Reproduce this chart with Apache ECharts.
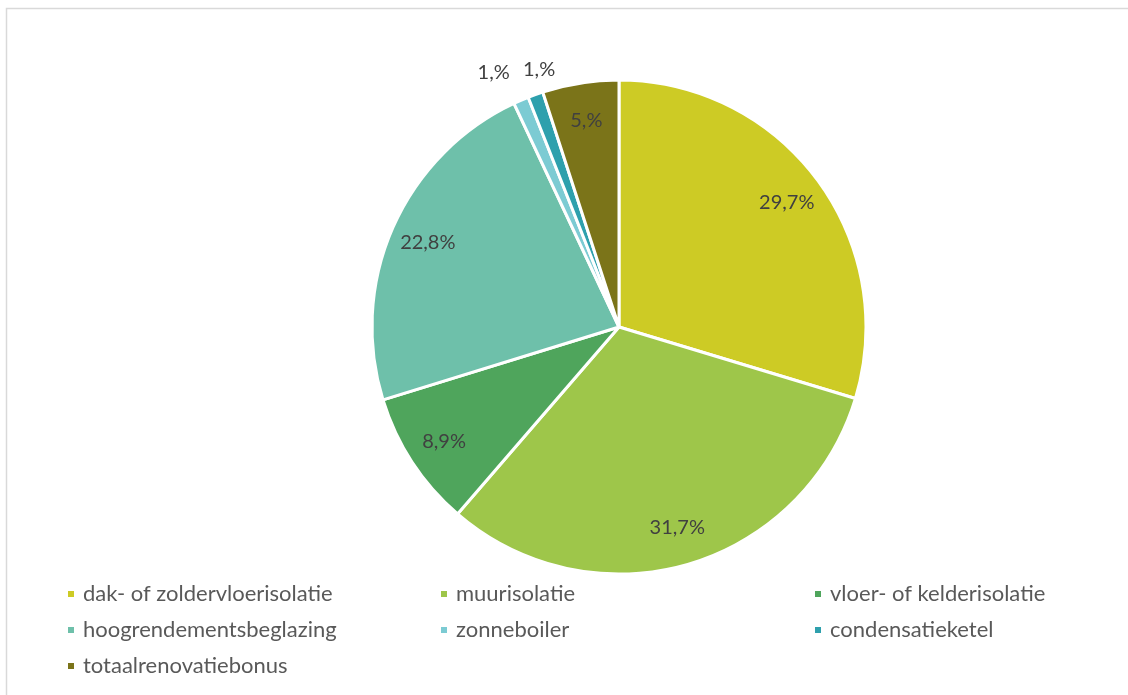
<!DOCTYPE html>
<html>
<head>
<meta charset="utf-8">
<script src="https://cdn.jsdelivr.net/npm/echarts@6/dist/echarts.min.js"></script>
<style>
    html, body { margin: 0; padding: 0; background: #fff; }
    #chart { width: 1128px; height: 695px; }
</style>
</head>
<body>
<div id="chart"></div>
<script>
// maatregelen en hun aandeel (%)
const categories = [
    'dak- of zoldervloerisolatie',
    'muurisolatie',
    'vloer- of kelderisolatie',
    'hoogrendementsbeglazing',
    'zonneboiler',
    'condensatieketel',
    'totaalrenovatiebonus'
]
const shares = [29.7, 31.7, 8.9, 22.8, 1.0, 1.0, 5.0]
const shareLabels = ['29,7%', '31,7%', '8,9%', '22,8%', '1,%', '1,%', '5,%']
const colors = ['#cdcb25', '#9ec64a', '#4fa55c', '#6ec0aa', '#7ccbd3', '#2ea0ad', '#7b7419']

const center = [619, 327]
const radius = 247
const font = 'Lato'

// kleine labels uit elkaar schuiven (zoals Excel doet)
const smallLabelOffset = {4: [-14, 3], 5: [15, 6]}

let pieData = categories.map((name, i) => ({value: shares[i], name: name}))

let chart = echarts.init(document.getElementById('chart'))

function legendCol(names, left) {
    return {
        orient: 'vertical',
        left: left,
        top: 583,
        padding: 0,
        data: names,
        icon: 'rect',
        itemWidth: 8,
        itemHeight: 8,
        itemGap: 14,
        selectedMode: false,
        textStyle: {
            fontFamily: font,
            fontSize: 22,
            lineHeight: 22,
            color: '#595959',
            padding: [0, 0, 0, 3]
        }
    }
}

function labelSeries(inner, outer, showSmall) {
    return {
        type: 'pie',
        center: center,
        radius: [inner, outer],
        startAngle: 90,
        silent: true,
        avoidLabelOverlap: false,
        labelLayout: {hideOverlap: false},
        itemStyle: {color: 'rgba(0,0,0,0)'},
        label: {
            position: 'inside',
            fontFamily: font,
            fontSize: 20,
            color: '#404040',
            formatter: p => shareLabels[p.dataIndex]
        },
        labelLine: {show: false},
        emphasis: {disabled: true},
        data: pieData.map((d, i) => ({
            value: d.value,
            name: d.name,
            label: {
                show: showSmall ? d.value <= 2 : d.value > 2,
                offset: smallLabelOffset[i] || [0, 0]
            }
        }))
    }
}

chart.setOption({
    color: colors,
    animation: false,
    graphic: [
        {
            type: 'rect',
            shape: {x: 6.5, y: 8.5, width: 1300, height: 900},
            style: {fill: 'none', stroke: '#d9d9d9', lineWidth: 1.5},
            silent: true
        }
    ],
    legend: [
        legendCol([categories[0], categories[3], categories[6]], 66),
        legendCol([categories[1], categories[4]], 439),
        legendCol([categories[2], categories[5]], 813)
    ],
    series: [
        {
            type: 'pie',
            center: center,
            radius: radius,
            startAngle: 90,
            clockwise: true,
            label: {show: false},
            labelLine: {show: false},
            itemStyle: {
                borderColor: '#ffffff',
                borderWidth: 3
            },
            emphasis: {disabled: true},
            data: pieData
        },
        // labels binnen de grote segmenten
        labelSeries(165, radius, false),
        // labels buiten de kleine segmenten
        labelSeries(255, 300, true)
    ]
})
</script>
</body>
</html>
